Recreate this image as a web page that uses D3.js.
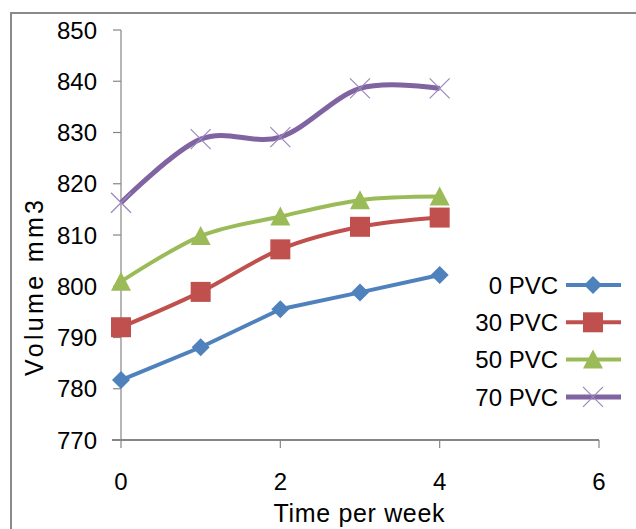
<!DOCTYPE html>
<html>
<head>
<meta charset="utf-8">
<script src="https://cdn.jsdelivr.net/npm/d3@7"></script>
<style>
    body { margin: 0; background: #fff; }
    svg { display: block; font-family: "Liberation Sans", Arial, sans-serif; }
</style>
</head>
<body>
<div id="chart"></div>
<script>
// Data
const weeks = [0, 1, 2, 3, 4];
const seriesNames = ['0 PVC', '30 PVC', '50 PVC', '70 PVC'];
const pvc0 = [781.7, 788.1, 795.5, 798.8, 802.2];
const pvc30 = [792.0, 798.9, 807.2, 811.6, 813.4];
const pvc50 = [800.9, 809.8, 813.6, 816.8, 817.5];
const pvc70 = [816.3, 828.7, 829.1, 838.6, 838.6];
const xTicks = [0, 2, 4, 6];
const yTicks = [770, 780, 790, 800, 810, 820, 830, 840, 850];

const WIDTH = 636;
const HEIGHT = 529;
const AXIS_COLOR = '#868686';

const series = [
    { name: seriesNames[0], values: pvc0, color: '#4F81BD', marker: 'diamond', smooth: false, width: 4 },
    { name: seriesNames[1], values: pvc30, color: '#C0504D', marker: 'square', smooth: true, width: 4 },
    { name: seriesNames[2], values: pvc50, color: '#9BBB59', marker: 'triangle', smooth: true, width: 4 },
    { name: seriesNames[3], values: pvc70, color: '#8064A2', marker: 'cross', smooth: true, width: 5 }
];

const svg = d3.select('#chart')
    .append('svg')
    .attr('width', WIDTH)
    .attr('height', HEIGHT);

// Outer frame (left and top edges only are visible)
svg.append('path')
    .attr('d', `M11,${HEIGHT} L11,13 L${WIDTH},13`)
    .attr('fill', 'none')
    .attr('stroke', '#8a8a8a')
    .attr('stroke-width', 2);

const xScale = d3.scaleLinear().domain([0, 6]).range([121, 599]);
const yScale = d3.scaleLinear().domain([770, 850]).range([440, 30]);

// Y axis
const yAxis = svg.append('g').attr('transform', `translate(${xScale(0)},0)`);
yAxis.append('line')
    .attr('y1', yScale(850)).attr('y2', yScale(770))
    .attr('stroke', AXIS_COLOR).attr('stroke-width', 1.2);
yAxis.selectAll('.ytick')
    .data(yTicks)
    .join('line')
    .attr('x1', -8).attr('x2', 0)
    .attr('y1', d => yScale(d)).attr('y2', d => yScale(d))
    .attr('stroke', AXIS_COLOR).attr('stroke-width', 1.2);
yAxis.selectAll('.ylabel')
    .data(yTicks)
    .join('text')
    .attr('x', -24)
    .attr('y', d => yScale(d))
    .attr('dy', '0.36em')
    .attr('text-anchor', 'end')
    .style('font-size', '24px')
    .text(d => d);

// X axis
const xAxis = svg.append('g').attr('transform', `translate(0,${yScale(770)})`);
xAxis.append('line')
    .attr('x1', xScale(0) - 9).attr('x2', xScale(6))
    .attr('stroke', AXIS_COLOR).attr('stroke-width', 1.8);
xAxis.selectAll('.xtick')
    .data(xTicks)
    .join('line')
    .attr('x1', d => xScale(d)).attr('x2', d => xScale(d))
    .attr('y1', 0).attr('y2', 8)
    .attr('stroke', AXIS_COLOR).attr('stroke-width', 1.2);
xAxis.selectAll('.xlabel')
    .data(xTicks)
    .join('text')
    .attr('x', d => xScale(d))
    .attr('y', 50)
    .attr('text-anchor', 'middle')
    .style('font-size', '24px')
    .text(d => d);

// Axis titles
svg.append('text')
    .attr('x', 359)
    .attr('y', 522)
    .attr('text-anchor', 'middle')
    .style('font-size', '25px')
    .attr('textLength', 171)
    .text('Time per week');

svg.append('text')
    .attr('transform', 'translate(43,288) rotate(-90)')
    .attr('text-anchor', 'middle')
    .style('font-size', '25px')
    .attr('textLength', 176)
    .text('Volume mm3');

// Markers
function drawMarker(g, type, color, x, y) {
    if (type === 'diamond') {
        g.append('path')
            .attr('d', `M${x},${y - 9} L${x + 9},${y} L${x},${y + 9} L${x - 9},${y} Z`)
            .attr('fill', color);
    } else if (type === 'square') {
        g.append('rect')
            .attr('x', x - 10).attr('y', y - 10)
            .attr('width', 20).attr('height', 20)
            .attr('fill', color);
    } else if (type === 'triangle') {
        g.append('path')
            .attr('d', `M${x},${y - 10} L${x + 10},${y + 9} L${x - 10},${y + 9} Z`)
            .attr('fill', color);
    } else if (type === 'cross') {
        g.append('path')
            .attr('d', `M${x - 10},${y - 10} L${x + 10},${y + 10} M${x + 10},${y - 10} L${x - 10},${y + 10}`)
            .attr('stroke', '#9b86bd')
            .attr('stroke-width', 1.2)
            .attr('fill', 'none');
    }
}

// Series lines and points
series.forEach(s => {
    const line = d3.line()
        .x((d, i) => xScale(weeks[i]))
        .y(d => yScale(d))
        .curve(s.smooth ? d3.curveCardinal.tension(0) : d3.curveLinear);

    const g = svg.append('g').attr('class', 'series');
    g.append('path')
        .datum(s.values)
        .attr('d', line)
        .attr('fill', 'none')
        .attr('stroke', s.color)
        .attr('stroke-width', s.width)
        .attr('stroke-linejoin', 'round');

    s.values.forEach((v, i) => drawMarker(g, s.marker, s.color, xScale(weeks[i]), yScale(v)));
});

// Legend
const legend = svg.append('g').attr('class', 'legend');
series.forEach((s, i) => {
    const y = 285 + i * 37.3;
    legend.append('text')
        .attr('x', 558)
        .attr('y', y)
        .attr('dy', '0.36em')
        .attr('text-anchor', 'end')
        .style('font-size', '24px')
        .text(s.name);
    legend.append('line')
        .attr('x1', 566).attr('x2', 621)
        .attr('y1', y).attr('y2', y)
        .attr('stroke', s.color)
        .attr('stroke-width', s.width);
    drawMarker(legend, s.marker, s.color, 593, y);
});
</script>
</body>
</html>
